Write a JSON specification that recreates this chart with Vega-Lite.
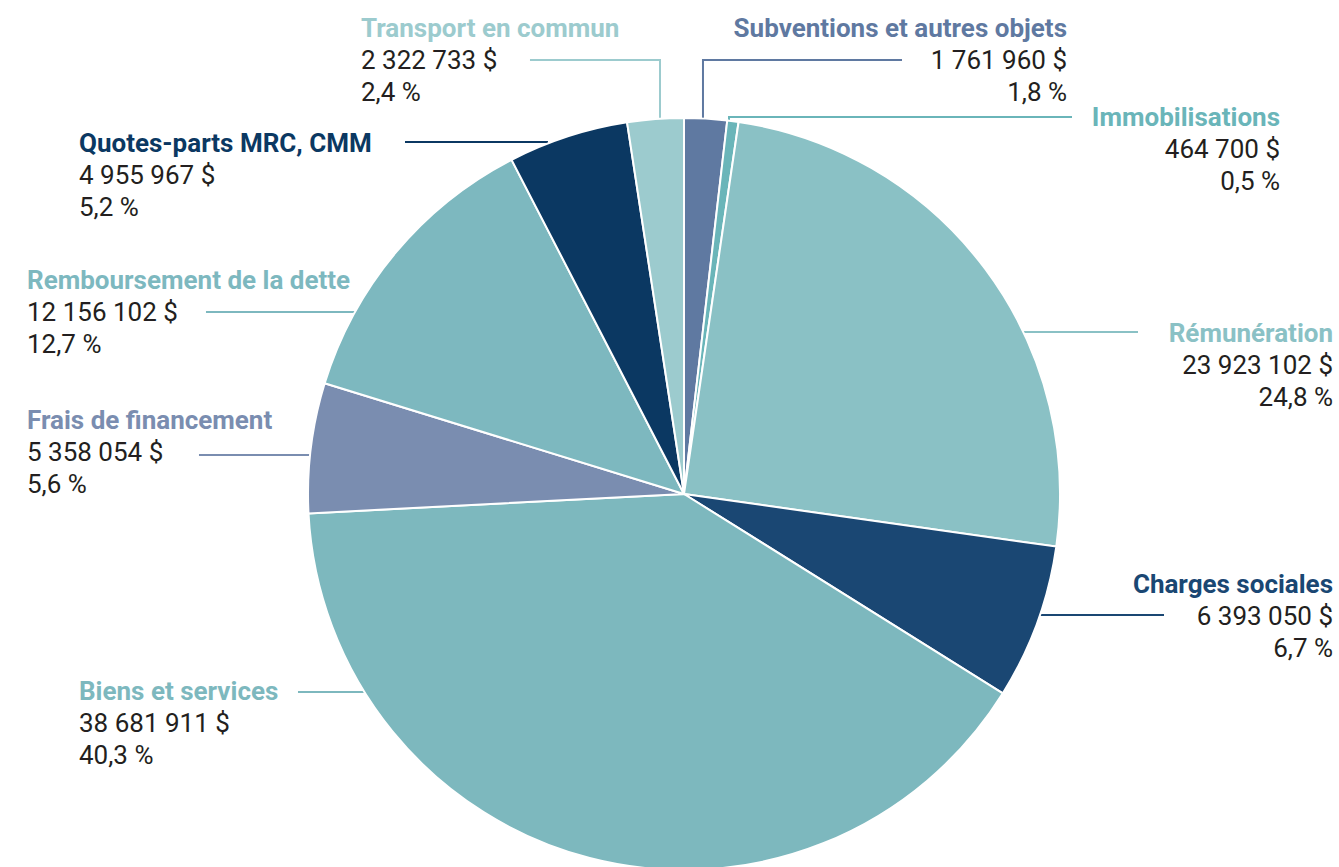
{
  "$schema": "https://vega.github.io/schema/vega-lite/v6.json",
  "width": 1339,
  "height": 867,
  "autosize": {"type": "none"},
  "padding": 0,
  "background": "white",
  "config": {"view": {"stroke": null}, "font": "Roboto"},
  "datasets": {
    "slices": [
      {"name": "Subventions et autres objets", "amount": 1761960, "pct": 1.8, "lx": 101.86, "ly": 121.54, "side": "right"},
      {"name": "Immobilisations", "amount": 464700, "pct": 0.5, "lx": 158.51, "ly": 97.87, "side": "right"},
      {"name": "Rémunération", "amount": 23923102, "pct": 24.8, "lx": 172.61, "ly": 40.43, "side": "right"},
      {"name": "Charges sociales", "amount": 6393050, "pct": 6.7, "lx": 172.61, "ly": -26.33, "side": "right"},
      {"name": "Biens et services", "amount": 38681911, "pct": 40.3, "lx": -160.9, "ly": -54.79, "side": "left"},
      {"name": "Frais de financement", "amount": 5358054, "pct": 5.6, "lx": -174.73, "ly": 17.29, "side": "left"},
      {"name": "Remboursement de la dette", "amount": 12156102, "pct": 12.7, "lx": -174.73, "ly": 54.52, "side": "left"},
      {"name": "Quotes-parts MRC, CMM", "amount": 4955967, "pct": 5.2, "lx": -160.9, "ly": 90.96, "side": "left"},
      {"name": "Transport en commun", "amount": 2322733, "pct": 2.4, "lx": -85.9, "ly": 121.54, "side": "left"}
    ],
    "leaders": [
      {"name": "Transport en commun", "seq": 1, "u": -40.96, "v": 115.43},
      {"name": "Transport en commun", "seq": 2, "u": -6.38, "v": 115.43},
      {"name": "Transport en commun", "seq": 3, "u": -6.38, "v": 98.94},
      {"name": "Subventions et autres objets", "seq": 1, "u": 5.05, "v": 98.94},
      {"name": "Subventions et autres objets", "seq": 2, "u": 5.05, "v": 115.43},
      {"name": "Subventions et autres objets", "seq": 3, "u": 57.98, "v": 115.43},
      {"name": "Immobilisations", "seq": 1, "u": 11.97, "v": 98.4},
      {"name": "Immobilisations", "seq": 2, "u": 11.97, "v": 100.27},
      {"name": "Immobilisations", "seq": 3, "u": 103.19, "v": 100.27},
      {"name": "Quotes-parts MRC, CMM", "seq": 1, "u": -74.2, "v": 93.62},
      {"name": "Quotes-parts MRC, CMM", "seq": 2, "u": -36.44, "v": 93.62},
      {"name": "Quotes-parts MRC, CMM", "seq": 3, "u": -36.44, "v": 88.83},
      {"name": "Remboursement de la dette", "seq": 1, "u": -127.13, "v": 48.4},
      {"name": "Remboursement de la dette", "seq": 2, "u": -84.84, "v": 48.4},
      {"name": "Frais de financement", "seq": 1, "u": -128.99, "v": 10.37},
      {"name": "Frais de financement", "seq": 2, "u": -96.81, "v": 10.37},
      {"name": "Biens et services", "seq": 1, "u": -102.66, "v": -52.66},
      {"name": "Biens et services", "seq": 2, "u": -83.51, "v": -52.66},
      {"name": "Rémunération", "seq": 1, "u": 88.03, "v": 43.09},
      {"name": "Rémunération", "seq": 2, "u": 120.74, "v": 43.09},
      {"name": "Charges sociales", "seq": 1, "u": 92.02, "v": -32.18},
      {"name": "Charges sociales", "seq": 2, "u": 127.66, "v": -32.18}
    ]
  },
  "encoding": {
    "color": {
      "field": "name",
      "type": "nominal",
      "legend": null,
      "scale": {
        "domain": ["Subventions et autres objets", "Immobilisations", "Rémunération", "Charges sociales", "Biens et services", "Frais de financement", "Remboursement de la dette", "Quotes-parts MRC, CMM", "Transport en commun"],
        "range": ["#5f79a1", "#6ab5b9", "#8ac1c5", "#1a4773", "#7db8be", "#7a8db0", "#7db8bf", "#0b3862", "#9ccbce"]
      }
    }
  },
  "layer": [
    {
      "data": {"name": "leaders"},
      "mark": {"type": "line", "strokeWidth": 2, "interpolate": "linear"},
      "encoding": {
        "x": {"field": "u", "type": "quantitative", "axis": null, "scale": {"domain": [-181.91, 174.2], "nice": false, "zero": false}},
        "y": {"field": "v", "type": "quantitative", "axis": null, "scale": {"domain": [-99.2, 131.38], "nice": false, "zero": false}},
        "detail": {"field": "name"},
        "order": {"field": "seq", "type": "quantitative"}
      }
    },
    {
      "data": {"name": "slices"},
      "transform": [{"window": [{"op": "row_number", "as": "rank"}]}],
      "mark": {"type": "arc", "radius": 376, "stroke": "white", "strokeWidth": 2},
      "encoding": {
        "x": {"datum": 0, "type": "quantitative"},
        "y": {"datum": 0, "type": "quantitative"},
        "theta": {"field": "amount", "type": "quantitative", "stack": true},
        "order": {"field": "rank", "type": "quantitative"}
      }
    },
    {
      "data": {"name": "slices"},
      "transform": [{"filter": "datum.side == 'left'"}],
      "mark": {"type": "text", "align": "left", "baseline": "alphabetic", "fontSize": 26, "fontWeight": "bold", "font": "Roboto"},
      "encoding": {
        "x": {"field": "lx", "type": "quantitative"},
        "y": {"field": "ly", "type": "quantitative"},
        "text": {"field": "name"}
      }
    },
    {
      "data": {"name": "slices"},
      "transform": [{"filter": "datum.side == 'right'"}],
      "mark": {"type": "text", "align": "right", "baseline": "alphabetic", "fontSize": 26, "fontWeight": "bold", "font": "Roboto"},
      "encoding": {
        "x": {"field": "lx", "type": "quantitative"},
        "y": {"field": "ly", "type": "quantitative"},
        "text": {"field": "name"}
      }
    },
    {
      "data": {"name": "slices"},
      "transform": [
        {"calculate": "replace(format(datum.amount, ','), regexp(',', 'g'), ' ') + ' $\\n' + replace(format(datum.pct, '.1f'), '.', ',') + ' %'", "as": "valtext"},
        {"filter": "datum.side == 'left'"}
      ],
      "mark": {"type": "text", "align": "left", "baseline": "alphabetic", "fontSize": 26, "font": "Roboto", "lineBreak": "\n", "lineHeight": 32, "dy": 32},
      "encoding": {
        "x": {"field": "lx", "type": "quantitative"},
        "y": {"field": "ly", "type": "quantitative"},
        "text": {"field": "valtext"},
        "color": {"value": "#231f20"}
      }
    },
    {
      "data": {"name": "slices"},
      "transform": [
        {"calculate": "replace(format(datum.amount, ','), regexp(',', 'g'), ' ') + ' $\\n' + replace(format(datum.pct, '.1f'), '.', ',') + ' %'", "as": "valtext"},
        {"filter": "datum.side == 'right'"}
      ],
      "mark": {"type": "text", "align": "right", "baseline": "alphabetic", "fontSize": 26, "font": "Roboto", "lineBreak": "\n", "lineHeight": 32, "dy": 32},
      "encoding": {
        "x": {"field": "lx", "type": "quantitative"},
        "y": {"field": "ly", "type": "quantitative"},
        "text": {"field": "valtext"},
        "color": {"value": "#231f20"}
      }
    }
  ]
}
